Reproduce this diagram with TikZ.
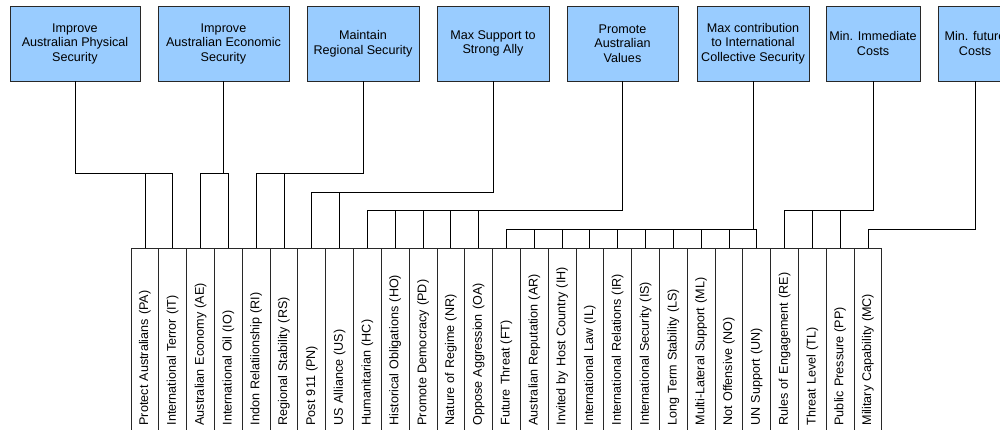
\documentclass[tikz,border=0pt]{standalone}
\usepackage{fontspec}
\setmainfont{Liberation Sans}
\definecolor{boxblue}{RGB}{153,204,255}
\definecolor{edge}{RGB}{40,40,40}
\begin{document}
\begin{tikzpicture}[x=1pt,y=1pt,
  topbox/.style={draw=edge, line width=0.8pt, fill=boxblue, minimum height=75pt, inner sep=0pt, align=center,
    font=\fontsize{12.6}{14.5}\selectfont},
  bbox/.style={draw=edge, line width=0.8pt, rotate=90, anchor=east, minimum width=184pt, minimum height=27.81pt,
    text width=170pt, inner xsep=7pt, inner ysep=0pt, align=left, font=\fontsize{12.6}{14.5}\selectfont},
  wire/.style={draw=black, line width=0.8pt}]
\useasboundingbox (0,0) rectangle (1000,-429);
\clip (0,0) rectangle (1000,-429);
% top objectives
\node[topbox, minimum width=130pt] (t1) at (75,-43.5) {Improve\\Australian Physical\\Security};
\node[topbox, minimum width=131pt] (t2) at (223.5,-43.5) {Improve\\Australian Economic\\Security};
\node[topbox, minimum width=112pt] (t3) at (363,-43.5) {Maintain\\Regional Security};
\node[topbox, minimum width=112pt] (t4) at (493,-43.5) {Max Support to\\Strong Ally};
\node[topbox, minimum width=111pt] (t5) at (622.5,-43.5) {Promote\\Australian\\Values};
\node[topbox, minimum width=112pt] (t6) at (753,-43.5) {Max contribution\\to International\\Collective Security};
\node[topbox, minimum width=94pt] (t7) at (873,-43.5) {Min. Immediate\\Costs};
\node[topbox, minimum width=74pt] (t8) at (975,-43.5) {Min. future\\Costs};
% bottom criteria
\foreach \lab [count=\i] in {Protect Australians (PA), International Terror (IT), Australian Economy (AE),
  International Oil (IO), Indon Relatiionship (RI), Regional Stability (RS), Post 911 (PN), US Alliance (US),
  Humanitarian (HC), Historical Obligations (HO), Promote Democracy (PD), Nature of Regime (NR),
  Oppose Aggression (OA), Future Threat (FT), Australian Reputation (AR), Invited by Host Country (IH),
  International Law (IL), International Relations (IR), International Security (IS), Long Term Stability (LS),
  Multi-Lateral Support (ML), Not Offensive (NO), UN Support (UN), Rules of Engagement (RE),
  Threat Level (TL), Public Pressure (PP), Military Capability (MC)}
  \node[bbox] (b\i) at ({131+27.81*(\i-0.5)},-248) {\lab};
% connectors
\foreach \t/\b/\y in {1/1/173,1/2/173,2/3/173,2/4/173,3/5/173,3/6/173,4/7/192,4/8/192,
  5/9/210,5/10/210,5/11/210,5/12/210,5/13/210,
  6/14/229,6/15/229,6/16/229,6/17/229,6/18/229,6/19/229,6/20/229,6/21/229,6/22/229,6/23/229,
  7/24/210,7/25/210,7/26/210,8/27/229}
  \draw[wire] (t\t.south) |- (b\b.east |- 0,-\y) -- (b\b.east);
\end{tikzpicture}
\end{document}
